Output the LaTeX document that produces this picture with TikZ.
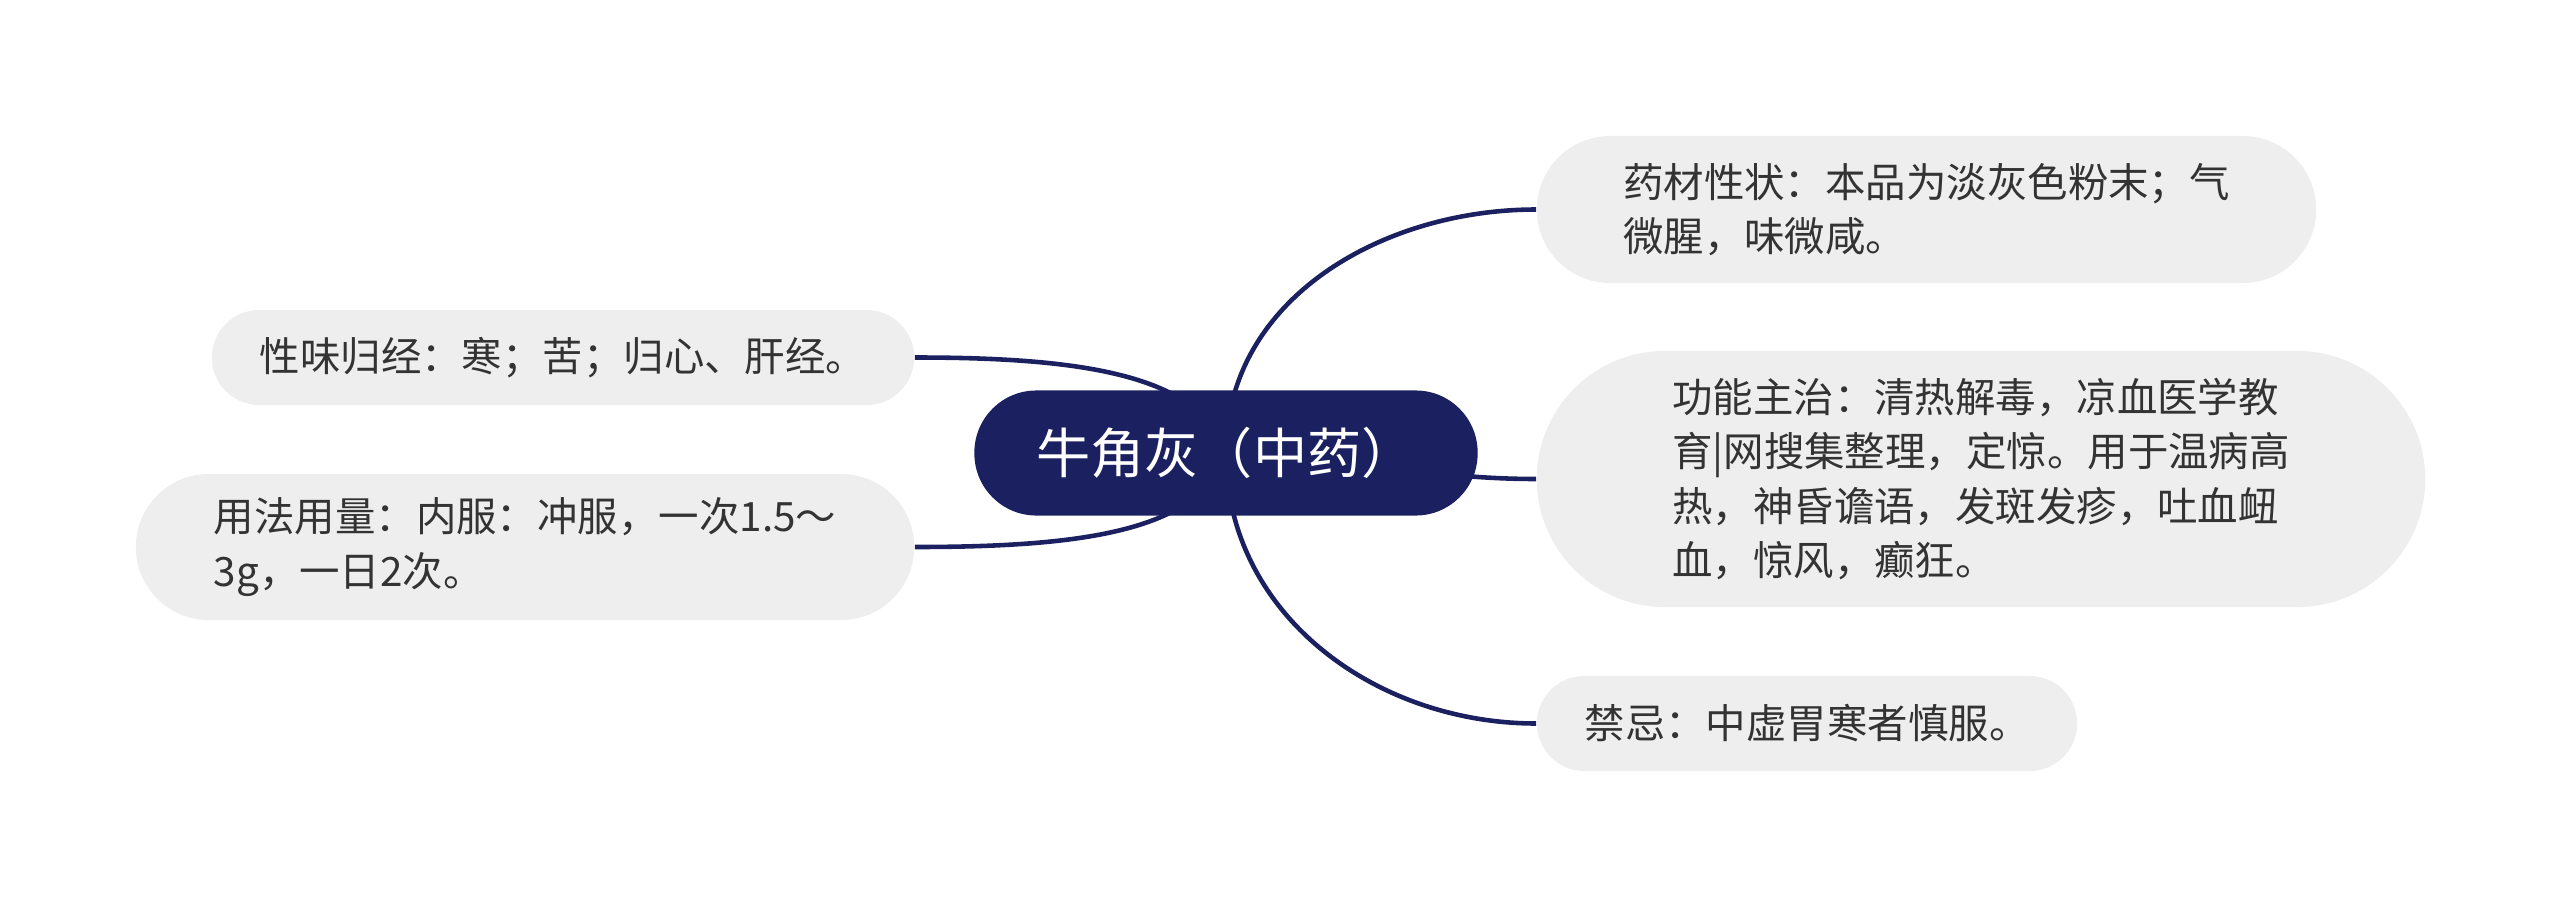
\documentclass[tikz,border=0pt]{standalone}
\usepackage{fontspec}
\setmainfont{Noto Sans CJK SC}
\usepackage{tikz}
\usetikzlibrary{backgrounds}
\definecolor{mapNavy}{HTML}{1B2160}
\definecolor{leafGray}{HTML}{EEEEEE}
\definecolor{leafText}{HTML}{333333}
\tikzset{
  mapRoot/.style={
    fill=mapNavy,
    text=white,
    rounded corners=0.62cm,
    minimum width=5.03cm,
    minimum height=1.25cm,
    inner sep=0pt,
    font=\fontsize{15.4pt}{18pt}\selectfont
  },
  mapLeaf/.style={
    fill=leafGray,
    text=leafText,
    align=left,
    inner sep=0pt,
    font=\fontsize{11.5pt}{15.5pt}\selectfont
  },
  mapBranch/.style={draw=mapNavy, line width=1.3pt}
}

\begin{document}
\begin{tikzpicture}[x=0.01cm,y=0.01cm]
  \useasboundingbox (0,0) rectangle (2560,-906);
  \node[mapRoot] (root) at (1226,-453) {牛角灰（中药）};

  \node[mapLeaf, minimum width=7.79cm, minimum height=1.47cm, rounded corners=0.735cm]
    (xingzhuang) at (1926.5,-209.5) {药材性状：本品为淡灰色粉末；气\\微腥，味微咸。};
  \node[mapLeaf, minimum width=8.88cm, minimum height=2.56cm, rounded corners=1.28cm]
    (gongneng) at (1981,-479) {功能主治：清热解毒，凉血医学教\\育|网搜集整理，定惊。用于温病高\\热，神昏谵语，发斑发疹，吐血衄\\血，惊风，癫狂。};
  \node[mapLeaf, minimum width=5.4cm, minimum height=0.95cm, rounded corners=0.475cm]
    (jinji) at (1807,-723.5) {禁忌：中虚胃寒者慎服。};
  \node[mapLeaf, minimum width=7.02cm, minimum height=0.95cm, rounded corners=0.475cm]
    (xingwei) at (563,-357.5) {性味归经：寒；苦；归心、肝经。};
  \node[mapLeaf, minimum width=7.78cm, minimum height=1.46cm, rounded corners=0.73cm]
    (yongfa) at (525,-547) {用法用量：内服：冲服，一次1.5～\\3g，一日2次。};

  \begin{scope}[on background layer]
    \foreach \leaf/\ang in {xingzhuang/90, gongneng/0, jinji/-90} {
      \draw[mapBranch] (root.center) to[out=\ang, in=180] (\leaf.west);
    }
    \foreach \leaf/\dy in {xingwei/80, yongfa/-80} {
      \draw[mapBranch] (root.center) .. controls +(-25,\dy) and +(160,0) .. (\leaf.east);
    }
  \end{scope}
\end{tikzpicture}
\end{document}
